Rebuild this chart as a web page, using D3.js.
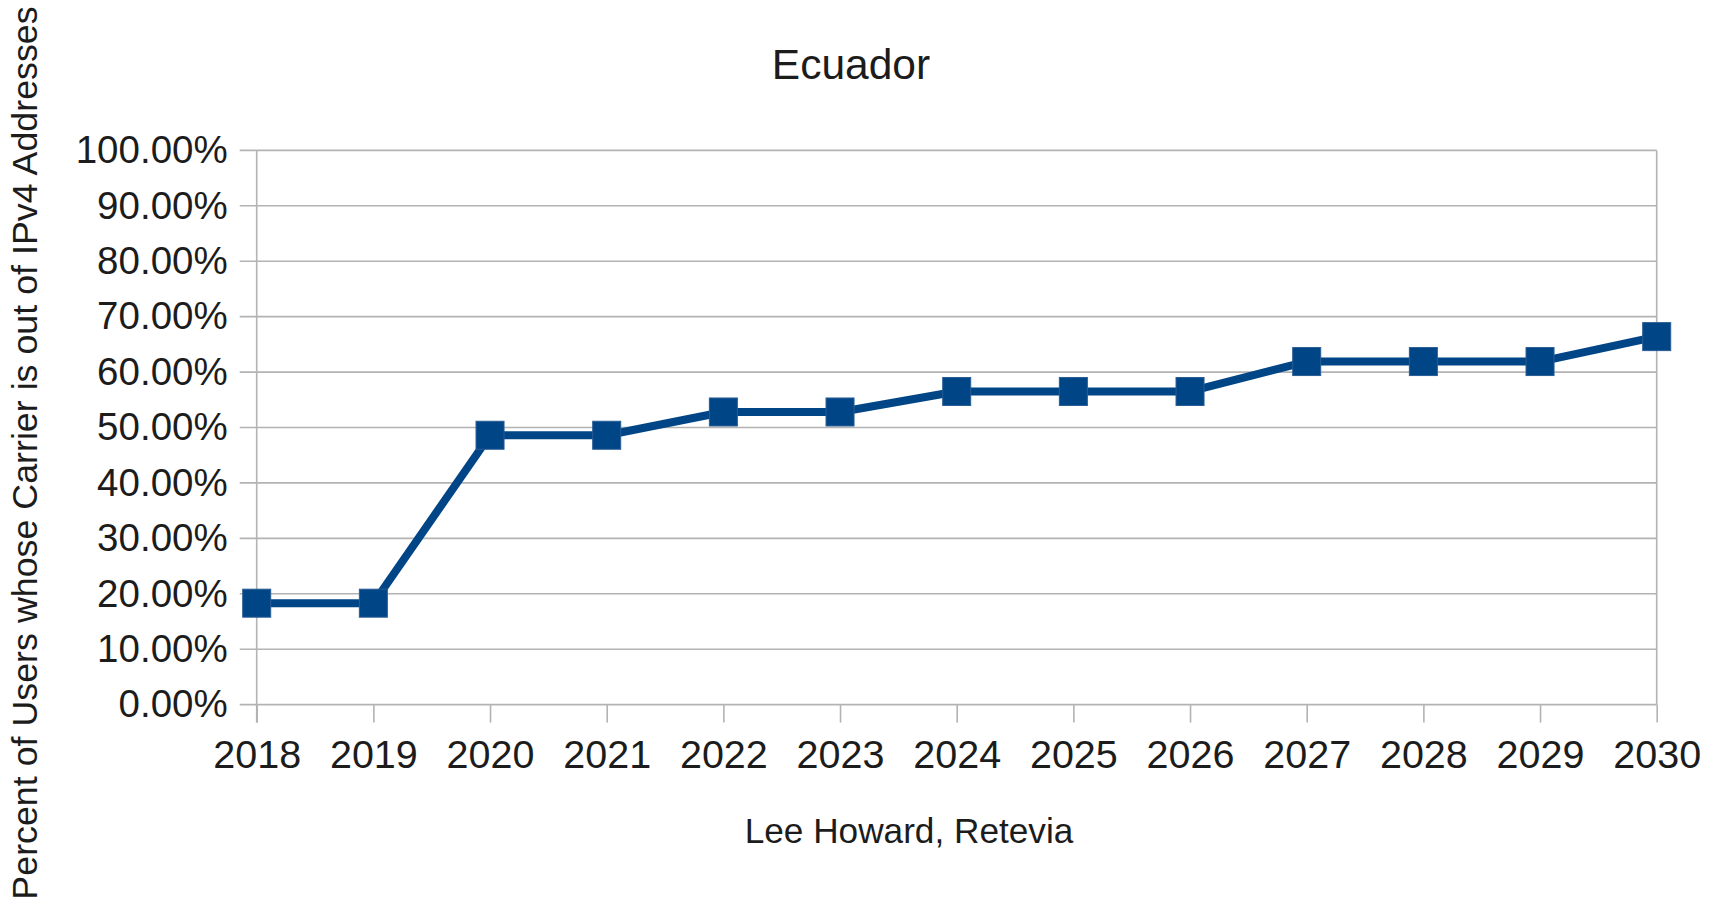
<!DOCTYPE html>
<html>
<head>
<meta charset="utf-8">
<script src="https://cdn.jsdelivr.net/npm/d3@7"></script>
<style>
  html, body { margin: 0; padding: 0; background: #fff; }
  svg { display: block; font-family: "Liberation Sans", Arial, sans-serif; }
</style>
</head>
<body>
<svg id="chart" width="1721" height="899"></svg>
<script>
const years = [2018, 2019, 2020, 2021, 2022, 2023, 2024, 2025, 2026, 2027, 2028, 2029, 2030];
const values = [18.3, 18.3, 48.6, 48.6, 52.8, 52.8, 56.5, 56.5, 56.5, 61.9, 61.9, 61.9, 66.4];
const yTicks = [0, 10, 20, 30, 40, 50, 60, 70, 80, 90, 100];
const chartTitle = "Ecuador";
const xTitle = "Lee Howard, Retevia";
const yTitle = "Percent of Users whose Carrier is out of IPv4 Addresses";

(function () {
const svg = d3.select("#chart");
const pLeft = 256.7, pRight = 1656.7, pTop = 150.4, pBottom = 704.6;

const x = d3.scalePoint().domain(years).range([pLeft, pRight]);
const y = d3.scaleLinear().domain([0, 100]).range([pBottom, pTop]);

const textColor = "#1c1c1c";
const gridColor = "#b3b3b3";
const lineColor = "#004586";

// gridlines
svg.append("g").selectAll("line").data(yTicks).join("line")
  .attr("x1", pLeft - 17).attr("x2", pRight)
  .attr("y1", d => y(d)).attr("y2", d => y(d))
  .attr("stroke", gridColor).attr("stroke-width", 1.6);

// y axis line + right border
svg.append("line").attr("x1", pLeft).attr("x2", pLeft).attr("y1", pTop).attr("y2", pBottom + 18)
  .attr("stroke", gridColor).attr("stroke-width", 1.6);
svg.append("line").attr("x1", pRight).attr("x2", pRight).attr("y1", pTop).attr("y2", pBottom)
  .attr("stroke", gridColor).attr("stroke-width", 1.6);

// x axis ticks
const xAxis = d3.axisBottom(x).tickSize(18).tickPadding(17).tickSizeOuter(0);
const gx = svg.append("g").attr("transform", `translate(0,${pBottom})`).call(xAxis);
gx.select(".domain").remove();
gx.selectAll(".tick line").attr("stroke", gridColor).attr("stroke-width", 1.6);
gx.selectAll(".tick text").attr("fill", textColor).attr("font-size", 39.5)
  .attr("font-family", "Liberation Sans, Arial, sans-serif");

// y axis labels
const yAxis = d3.axisLeft(y).tickValues(yTicks).tickSize(0).tickPadding(29)
  .tickFormat(d => d3.format(".2f")(d) + "%");
const gy = svg.append("g").attr("transform", `translate(${pLeft},0)`).call(yAxis);
gy.select(".domain").remove();
gy.selectAll(".tick text").attr("fill", textColor).attr("font-size", 38.5)
  .attr("font-family", "Liberation Sans, Arial, sans-serif");

// line
const line = d3.line().x((d, i) => x(years[i])).y(d => y(d));
svg.append("path").datum(values).attr("d", line)
  .attr("fill", "none").attr("stroke", lineColor).attr("stroke-width", 8)
  .attr("stroke-linejoin", "round");

// markers
const ms = 28;
svg.append("g").selectAll("rect").data(values).join("rect")
  .attr("x", (d, i) => x(years[i]) - ms / 2)
  .attr("y", d => y(d) - ms / 2)
  .attr("width", ms).attr("height", ms)
  .attr("fill", lineColor).attr("stroke", "#2a5d95").attr("stroke-width", 1);

// titles
svg.append("text").attr("x", 851).attr("y", 79).attr("text-anchor", "middle")
  .attr("font-size", 42.5).attr("fill", textColor).text(chartTitle);
svg.append("text").attr("x", 909).attr("y", 843).attr("text-anchor", "middle")
  .attr("font-size", 35.2).attr("fill", textColor).text(xTitle);
svg.append("text").attr("transform", "translate(37,453) rotate(-90)")
  .attr("text-anchor", "middle").attr("font-size", 35.8).attr("fill", textColor).text(yTitle);
})();
</script>
</body>
</html>
